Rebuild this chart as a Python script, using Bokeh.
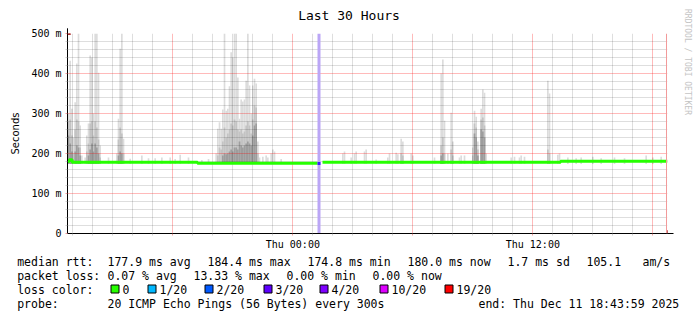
import math
from bokeh.plotting import figure
from bokeh.layouts import column, row
from bokeh.models import Range1d, FixedTicker, Arrow, NormalHead, Span
from bokeh.core.properties import value
from bokeh.embed import file_html
from bokeh.resources import INLINE

# ---------------- data ----------------
title_text = "Last 30 Hours"
range_start = "Wed 12:43:59"
range_end = "Thu 18:43:59"

y_ticks_ms = [0, 100, 200, 300, 400, 500]
y_tick_labels = ["0", "100 m", "200 m", "300 m", "400 m", "500 m"]
y_minor_ms = [v for v in range(20, 500, 20) if v % 100 != 0]

x_major_times = ["Wed 18:00", "Thu 00:00", "Thu 06:00", "Thu 12:00", "Thu 18:00"]
x_major_labels = ["", "Thu 00:00", "", "Thu 12:00", ""]

smoke_time = [
    "Wed 12:47", "Wed 12:52", "Wed 12:57", "Wed 13:02", "Wed 13:07", "Wed 13:12", "Wed 13:17", "Wed 13:22",
    "Wed 13:27", "Wed 13:37", "Wed 13:42", "Wed 13:47", "Wed 13:52", "Wed 13:57", "Wed 14:02", "Wed 14:07",
    "Wed 14:12", "Wed 14:17", "Wed 14:22", "Wed 14:47", "Wed 15:12", "Wed 15:17", "Wed 15:22", "Wed 15:27",
    "Wed 15:32", "Wed 15:52", "Wed 16:27", "Wed 16:47", "Wed 17:07", "Wed 17:27", "Wed 17:52", "Wed 18:07",
    "Wed 18:22", "Wed 18:47", "Wed 19:27", "Wed 19:47",
    "Wed 20:10", "Wed 20:15", "Wed 20:20", "Wed 20:25", "Wed 20:30", "Wed 20:35", "Wed 20:40", "Wed 20:45",
    "Wed 20:50", "Wed 20:55", "Wed 21:00", "Wed 21:05", "Wed 21:10", "Wed 21:15", "Wed 21:20", "Wed 21:25",
    "Wed 21:30", "Wed 21:35", "Wed 21:40", "Wed 21:45", "Wed 21:50", "Wed 21:55", "Wed 22:00", "Wed 22:05",
    "Wed 22:10", "Wed 22:15", "Wed 22:20", "Wed 22:30", "Wed 22:40", "Wed 22:45", "Wed 22:55", "Wed 23:00",
    "Wed 23:05", "Wed 23:25",
    "Thu 02:30", "Thu 02:35", "Thu 02:55", "Thu 03:05", "Thu 03:10", "Thu 03:35", "Thu 03:40", "Thu 04:10",
    "Thu 04:45", "Thu 04:50", "Thu 05:10", "Thu 05:15", "Thu 05:25", "Thu 05:30", "Thu 05:55", "Thu 06:00",
    "Thu 07:05",
    "Thu 07:25", "Thu 07:30", "Thu 07:35", "Thu 07:45", "Thu 07:55", "Thu 08:00", "Thu 08:20", "Thu 08:25",
    "Thu 08:35", "Thu 09:00", "Thu 09:05", "Thu 09:10", "Thu 09:15", "Thu 09:25", "Thu 09:30", "Thu 09:35",
    "Thu 09:40", "Thu 10:55", "Thu 11:05", "Thu 11:20", "Thu 11:25", "Thu 11:35", "Thu 12:45", "Thu 12:50",
    "Thu 13:15", "Thu 13:20", "Thu 13:45", "Thu 14:10", "Thu 14:25", "Thu 15:00", "Thu 15:25", "Thu 16:05",
    "Thu 16:35", "Thu 17:40", "Thu 18:00", "Thu 18:25",
]
smoke_max = [
    300, 432, 312, 240, 328, 425, 500, 270,
    195, 190, 245, 275, 445, 440, 300, 500,
    500, 402, 220, 190, 200, 287, 462, 500,
    237, 187, 195, 188, 188, 190, 190, 186,
    197, 190, 184, 186,
    200, 262, 278, 262, 310, 500, 307, 312,
    368, 453, 440, 500, 500, 390, 287, 335,
    330, 335, 382, 500, 370, 300, 370, 387,
    375, 230, 190, 192, 195, 190, 200, 210,
    205, 186,
    200, 205, 190, 200, 205, 205, 210, 185,
    190, 200, 202, 198, 237, 230, 200, 195,
    190,
    400, 435, 282, 200, 302, 230, 190, 195,
    195, 215, 307, 292, 230, 312, 360, 352,
    200, 190, 192, 190, 195, 192, 382, 350,
    197, 200, 190, 188, 190, 192, 188, 190,
    188, 195, 190, 192,
]
smoke_mid = [
    280, 285, 245, 200, 260, 285, 280, 215,
    0, 0, 205, 225, 275, 280, 245, 280,
    265, 235, 190, 0, 0, 235, 265, 250,
    200, 0, 0, 0, 0, 0, 0, 0,
    0, 0, 0, 0,
    0, 195, 215, 210, 230, 265, 240, 250,
    260, 275, 270, 285, 280, 260, 255, 260,
    250, 255, 270, 280, 270, 250, 285, 320,
    315, 200, 0, 0, 0, 0, 0, 0,
    0, 0,
    0, 0, 0, 0, 0, 0, 0, 0,
    0, 0, 0, 0, 200, 195, 0, 0,
    0,
    220, 240, 200, 0, 210, 195, 0, 0,
    0, 195, 275, 265, 210, 285, 290, 270,
    0, 0, 0, 0, 0, 0, 210, 200,
    0, 0, 0, 0, 0, 0, 0, 0,
    0, 0, 0, 0,
]
smoke_dark = [
    245, 225, 205, 0, 205, 220, 215, 195,
    0, 0, 0, 195, 210, 225, 205, 225,
    215, 200, 0, 0, 0, 195, 205, 200,
    0, 0, 0, 0, 0, 0, 0, 0,
    0, 0, 0, 0,
    0, 0, 0, 0, 195, 200, 198, 200,
    205, 210, 205, 215, 215, 210, 230, 220,
    215, 220, 225, 230, 225, 220, 245, 270,
    275, 0, 0, 0, 0, 0, 0, 0,
    0, 0,
    0, 0, 0, 0, 0, 0, 0, 0,
    0, 0, 0, 0, 0, 0, 0, 0,
    0,
    195, 200, 0, 0, 0, 0, 0, 0,
    0, 0, 250, 240, 195, 260, 255, 240,
    0, 0, 0, 0, 0, 0, 0, 0,
    0, 0, 0, 0, 0, 0, 0, 0,
    0, 0, 0, 0,
]
smoke_floor_ms = 174

median_a_time = ["Wed 12:44", "Wed 12:49", "Wed 12:58", "Wed 19:14", "Thu 01:14"]
median_a_ms = [180.0, 184.4, 178.3, 175.8, 175.8]
median_loss_time = ["Thu 01:14", "Thu 01:23"]
median_loss_ms = [175.0, 175.0]
median_b_time = ["Thu 01:29", "Thu 13:23", "Thu 18:44"]
median_b_ms = [178.3, 180.5, 180.5]

loss_band_start = ["Thu 01:14"]
loss_band_end = ["Thu 01:23"]
now_rule_time = "Thu 18:41"

stat_line1 = ["median rtt:", "177.9 ms avg", "184.4 ms max", "174.8 ms min",
              "180.0 ms now", "1.7 ms sd", "105.1", "am/s"]
stat_line2 = ["packet loss:", "0.07 % avg", "13.33 % max", "0.00 % min", "0.00 % now"]
loss_title = "loss color:"
loss_labels = ["0", "1/20", "2/20", "3/20", "4/20", "10/20", "19/20"]
loss_colors = ["#26ff00", "#00b8ff", "#0059ff", "#5e00ff", "#7e00ff", "#dd00ff", "#ff0000"]
probe_line = ["probe:", "20 ICMP Echo Pings (56 Bytes) every 300s", "end: Thu Dec 11 18:43:59 2025"]
watermark = "RRDTOOL / TOBI OETIKER"


def hrs(s):
    day, hm = s.split()
    parts = [int(v) for v in hm.split(":")]
    h = parts[0] + parts[1] / 60.0 + (parts[2] / 3600.0 if len(parts) > 2 else 0.0)
    return h + (24.0 if day == "Thu" else 0.0)


# ---------------- layout / style ----------------
MONO = "DejaVu Sans Mono"
GREEN = loss_colors[0]
STEP_H = 5 / 60.0
LIGHT, MID, DARK = "#dcdcdc", "#c3c3c3", "#9d9d9d"


def blank(width, height, xr, yr):
    f = figure(width=width, height=height, x_range=Range1d(*xr), y_range=Range1d(*yr),
               output_backend="svg", toolbar_location=None, tools="",
               x_axis_location=None, y_axis_location=None,
               min_border_left=0, min_border_right=0, min_border_top=0, min_border_bottom=0)
    f.outline_line_color = None
    f.xgrid.visible = False
    f.ygrid.visible = False
    f.background_fill_color = "white"
    f.border_fill_color = "white"
    f.frame_align = False
    return f


x0, x1 = hrs(range_start), hrs(range_end)
p = figure(width=680, height=232, x_range=Range1d(x0, x1), y_range=Range1d(0, 500),
           output_backend="svg", toolbar_location=None, tools="",
           min_border_left=67, min_border_right=13, min_border_top=11, min_border_bottom=21)
p.frame_align = False
p.outline_line_color = None
p.background_fill_color = "white"
p.border_fill_color = "white"

# smoke (drawn beneath the grid)
sx = [hrs(t) for t in smoke_time]
p.vbar(x=sx, width=STEP_H, bottom=smoke_floor_ms, top=smoke_max,
       fill_color=LIGHT, line_color=None, level="image")
mx = [x for x, m in zip(sx, smoke_mid) if m > 0]
mv = [m for m in smoke_mid if m > 0]
p.vbar(x=mx, width=STEP_H, bottom=smoke_floor_ms, top=mv,
       fill_color=MID, line_color=None, level="image")
dx = [x for x, m in zip(sx, smoke_dark) if m > 0]
dv = [m for m in smoke_dark if m > 0]
p.vbar(x=dx, width=STEP_H, bottom=smoke_floor_ms, top=dv,
       fill_color=DARK, line_color=None, level="image")

# grids
xt = [hrs(t) for t in x_major_times]
x_minor = [h for h in range(13, 43) if h not in [round(v) for v in xt]]
p.xgrid.ticker = FixedTicker(ticks=xt, minor_ticks=x_minor)
p.ygrid.ticker = FixedTicker(ticks=y_ticks_ms, minor_ticks=y_minor_ms)
for g in (p.xgrid, p.ygrid):
    g.grid_line_color = "#ff0000"
    g.grid_line_alpha = 0.27
    g.minor_grid_line_color = "#000000"
    g.minor_grid_line_alpha = 0.13

# loss band
p.quad(left=[hrs(t) for t in loss_band_start], right=[hrs(t) for t in loss_band_end],
       bottom=[0], top=[500], fill_color="#bba6f6", line_color=None)

# now rule
p.add_layout(Span(location=hrs(now_rule_time), dimension="height",
                  line_color="#f29a9a", line_width=1))

# median line
p.step([hrs(t) for t in median_a_time], median_a_ms, mode="after", line_color=GREEN, line_width=3)
p.line([hrs(t) for t in median_loss_time], median_loss_ms, line_color="#3c1cff", line_width=3)
p.step([hrs(t) for t in median_b_time], median_b_ms, mode="after", line_color=GREEN, line_width=3)

# axes
p.xaxis.ticker = FixedTicker(ticks=xt, minor_ticks=x_minor)
p.xaxis.major_label_overrides = {t: l for t, l in zip(xt, x_major_labels)}
p.yaxis.ticker = FixedTicker(ticks=y_ticks_ms, minor_ticks=y_minor_ms)
p.yaxis.major_label_overrides = {t: l for t, l in zip(y_ticks_ms, y_tick_labels)}
for ax in (p.xaxis, p.yaxis):
    ax.axis_line_color = "black"
    ax.major_label_text_font = MONO
    ax.major_label_text_font_size = "10px"
    ax.major_label_text_color = "black"
    ax.major_tick_in = 0
    ax.major_tick_out = 2
    ax.major_tick_line_color = "#f2a0a0"
    ax.minor_tick_in = 0
    ax.minor_tick_out = 2
    ax.minor_tick_line_color = "#d0d0d0"
p.xaxis.major_label_standoff = 3
p.yaxis.major_label_standoff = 4
p.yaxis.axis_label = "Seconds"
p.yaxis.axis_label_text_font = "DejaVu Sans"
p.yaxis.axis_label_text_font_size = "10px"
p.yaxis.axis_label_text_font_style = "normal"
p.yaxis.axis_label_text_color = "black"
p.yaxis.axis_label_standoff = 7

# axis arrows
p.add_layout(Arrow(end=NormalHead(size=6, fill_color="#a01010", line_color="#a01010"),
                   x_start=x0, y_start=0, x_end=x0, y_end=513, line_color="black", line_width=1))
p.add_layout(Arrow(end=NormalHead(size=6, fill_color="#a01010", line_color="#a01010"),
                   x_start=x0, y_start=0, x_end=x1 + 0.3, y_end=0, line_color="black", line_width=1))

# ---------------- title strip ----------------
t = blank(680, 22, (0, 680), (22, 0))
t.text(x=[348.5], y=[15], text=[title_text], text_font=value(MONO), text_font_size="13px",
       text_align="center", text_baseline="middle", text_color="black")

# ---------------- watermark strip ----------------
w = blank(17, 254, (680, 697), (254, 0))
w.text(x=[687], y=[61.5], text=[watermark], angle=-math.pi / 2, text_font=value(MONO),
       text_font_size="8px", text_align="center", text_baseline="middle", text_color="#c4c4c4")

# ---------------- legend area ----------------
q = blank(697, 67, (0, 697), (321, 254))
row_y = [261, 275, 289, 303]
l1_x = [16.7, 107, 207, 307, 407, 507, 586, 642]
l2_x = [16.7, 107, 193, 286, 372]
sq_x = [110, 147, 204, 263, 319, 379, 444]
l3_x = [16.7] + [s + 12 for s in sq_x]
l4_x = [16.7, 107, 478]

tx, ty, tt = [], [], []
for xs, texts, yy in ((l1_x, stat_line1, row_y[0]), (l2_x, stat_line2, row_y[1]),
                      (l3_x, [loss_title] + loss_labels, row_y[2]), (l4_x, probe_line, row_y[3])):
    tx += xs
    ty += [yy] * len(xs)
    tt += texts
q.text(x=tx, y=ty, text=tt, text_font=value(MONO), text_font_size="11.5px",
       text_baseline="middle", text_align="left", text_color="black")
q.rect(x=[s + 4.5 for s in sq_x], y=[row_y[2] - 0.5] * len(sq_x), width=8, height=8,
       fill_color=loss_colors, line_color="black", line_width=1)

layout = column(row(column(t, p, spacing=0), w, spacing=0), q, spacing=0)
open("out.html", "w").write(file_html(layout, INLINE))
